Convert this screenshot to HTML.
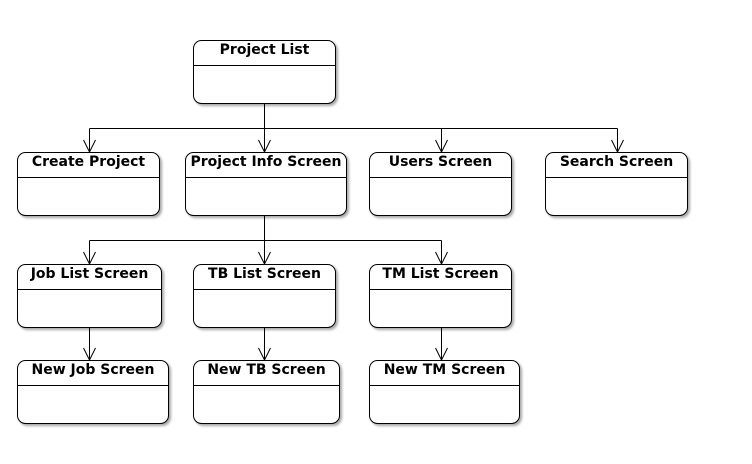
<!DOCTYPE html>
<html><head><meta charset="utf-8"><style>
html,body{margin:0;padding:0;background:#fff;}
svg{display:block;}
text{font-family:"DejaVu Sans","Liberation Sans",sans-serif;font-weight:bold;font-size:14px;fill:#000;}
</style></head><body>
<svg width="752" height="464" viewBox="0 0 752 464" xmlns="http://www.w3.org/2000/svg">
<defs>
<filter id="sh" x="-5%" y="-5%" width="115%" height="120%"><feGaussianBlur in="SourceAlpha" stdDeviation="1.2"/><feOffset dx="2" dy="2"/><feComponentTransfer><feFuncA type="linear" slope="0.35"/></feComponentTransfer><feMerge><feMergeNode/><feMergeNode in="SourceGraphic"/></feMerge></filter>
</defs>
<g fill="none" stroke="#000" stroke-width="1">
<path d="M264.5 104 V128.5 M89.5 128.5 H617.5 M89.5 128.5 V152 M264.5 128.5 V152 M441.5 128.5 V152 M617.5 128.5 V152"/>
<path d="M264.5 216 V240.5 M89.5 240.5 H441.5 M89.5 240.5 V264 M264.5 240.5 V264 M441.5 240.5 V264"/>
<path d="M89.5 328 V360 M264.5 328 V360 M441.5 328 V360"/>
<path d="M83.5 140 L89.5 152 L95.5 140 M258.5 140 L264.5 152 L270.5 140 M435.5 140 L441.5 152 L447.5 140 M611.5 140 L617.5 152 L623.5 140"/>
<path d="M83.5 252 L89.5 264 L95.5 252 M258.5 252 L264.5 264 L270.5 252 M435.5 252 L441.5 264 L447.5 252"/>
<path d="M83.5 348 L89.5 360 L95.5 348 M258.5 348 L264.5 360 L270.5 348 M435.5 348 L441.5 360 L447.5 348"/>
</g>
<g fill="#fff" stroke="#000" stroke-width="1" filter="url(#sh)">
<rect x="193.5" y="40.5" width="142" height="63" rx="8"/>
<rect x="17.5" y="152.5" width="142" height="63" rx="8"/>
<rect x="185.5" y="152.5" width="161" height="63" rx="8"/>
<rect x="369.5" y="152.5" width="142" height="63" rx="8"/>
<rect x="545.5" y="152.5" width="142" height="63" rx="8"/>
<rect x="17.5" y="264.5" width="144" height="63" rx="8"/>
<rect x="193.5" y="264.5" width="142" height="63" rx="8"/>
<rect x="369.5" y="264.5" width="142" height="63" rx="8"/>
<rect x="17.5" y="360.5" width="151" height="63" rx="8"/>
<rect x="193.5" y="360.5" width="146" height="63" rx="8"/>
<rect x="369.5" y="360.5" width="150" height="63" rx="8"/>
</g>
<g stroke="#000" stroke-width="1">
<path d="M193.5 65.5 H335.5 M17.5 177.5 H159.5 M185.5 177.5 H346.5 M369.5 177.5 H511.5 M545.5 177.5 H687.5 M17.5 289.5 H161.5 M193.5 289.5 H335.5 M369.5 289.5 H511.5 M17.5 385.5 H168.5 M193.5 385.5 H339.5 M369.5 385.5 H519.5"/>
</g>
<g text-anchor="middle">
<text x="264.5" y="54">Project List</text>
<text x="88.5" y="166">Create Project</text>
<text x="266" y="166">Project Info Screen</text>
<text x="440.5" y="166">Users Screen</text>
<text x="616.5" y="166">Search Screen</text>
<text x="89.5" y="278">Job List Screen</text>
<text x="264.5" y="278">TB List Screen</text>
<text x="440.5" y="278">TM List Screen</text>
<text x="93" y="374">New Job Screen</text>
<text x="266.5" y="374">New TB Screen</text>
<text x="444.5" y="374">New TM Screen</text>
</g>
</svg>
</body></html>
